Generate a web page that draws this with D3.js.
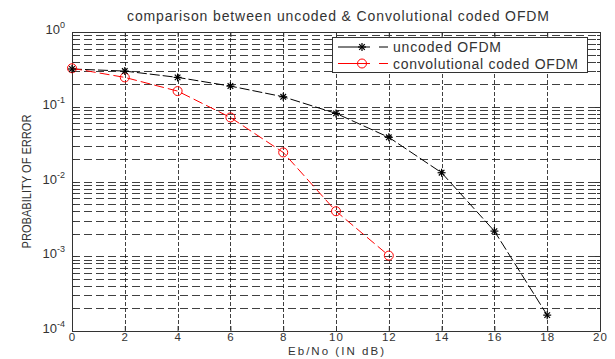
<!DOCTYPE html>
<html><head><meta charset="utf-8">
<script src="https://cdn.jsdelivr.net/npm/d3@7"></script>
<style>body{margin:0;background:#fff;}svg{display:block;font-family:"Liberation Sans",Arial,sans-serif;}</style>
</head><body><svg id="c" width="615" height="359"></svg>
<script>
const ebno = [0,2,4,6,8,10,12,14,16,18];
const uncoded = [0.32,0.30,0.247,0.189,0.136,0.0815,0.039,0.0131,0.00217,0.000163];
const ebnoCoded = [0,2,4,6,8,10,12];
const coded = [0.327,0.247,0.162,0.072,0.0245,0.0040,0.00102];
const xTicks = [0,2,4,6,8,10,12,14,16,18,20];
const yExps = [0,-1,-2,-3,-4];
const title = "comparison between uncoded & Convolutional coded OFDM";
const xLabel = "Eb/No (IN dB)";
const yLabel = "PROBABILITY OF ERROR";
const seriesNames = ["uncoded OFDM","convolutional coded OFDM"];

const svg = d3.select("#c");
const TXT = "#333";
const L=72, R=600, T=32, B=331;
const x = d3.scaleLinear().domain([0,20]).range([L,R]);
const y = d3.scaleLog().domain([1e-4,1]).range([B,T]);

const minors=[];
for(let e=-4;e<0;e++) for(let m=2;m<=9;m++) minors.push(m*Math.pow(10,e));
const majors = yExps.map(e=>Math.pow(10,e));

const g = svg.append("g");
g.selectAll(".hg").data(minors.concat(majors.slice(1,4))).enter().append("line")
 .attr("x1",L).attr("x2",R).attr("y1",d=>Math.round(y(d))+0.5).attr("y2",d=>Math.round(y(d))+0.5)
 .attr("stroke","#111").attr("stroke-width",1).attr("stroke-dasharray","8,4").attr("opacity",0.8);
g.selectAll(".vg").data(xTicks.slice(1,-1)).enter().append("line")
 .attr("x1",d=>Math.round(x(d))+0.5).attr("x2",d=>Math.round(x(d))+0.5).attr("y1",T).attr("y2",B)
 .attr("stroke","#111").attr("stroke-width",1).attr("stroke-dasharray","4,2").attr("opacity",0.8);

const xAxB = d3.axisBottom(x).tickValues(xTicks).tickSize(-5).tickPadding(2).tickFormat(d3.format("d"));
const xAxT = d3.axisTop(x).tickValues(xTicks).tickSize(-5).tickFormat("");
svg.append("g").attr("transform",`translate(0,${B})`).call(xAxB).call(s=>{s.select(".domain").attr("stroke","#333");s.selectAll("line").attr("stroke","#333");s.selectAll("text").attr("font-size",11.5).attr("fill",TXT).attr("font-family","Liberation Sans, Arial, sans-serif").attr("letter-spacing",1);});
svg.append("g").attr("transform",`translate(0,${T})`).call(xAxT).call(s=>{s.select(".domain").attr("stroke","#333");s.selectAll("line").attr("stroke","#333");});
const yTickVals = majors.concat(minors);
svg.append("g").attr("transform",`translate(${L},0)`).call(d3.axisLeft(y).tickValues(yTickVals).tickSize(0).tickFormat("")).call(s=>s.select(".domain").attr("stroke","#333"));
svg.append("g").attr("transform",`translate(${R},0)`).call(d3.axisRight(y).tickValues(yTickVals).tickSize(0).tickFormat("")).call(s=>s.select(".domain").attr("stroke","#333"));
[L,R].forEach((xx,i)=>{
  const dir = i===0?1:-1;
  svg.selectAll(null).data(yTickVals).enter().append("line")
   .attr("x1",xx).attr("x2",d=>xx+dir*(majors.includes(d)?5:3)).attr("y1",d=>Math.round(y(d))+0.5).attr("y2",d=>Math.round(y(d))+0.5)
   .attr("stroke","#333");
});
const yl = svg.selectAll(".yl").data(yExps).enter().append("text")
 .attr("x",L-7).attr("y",d=>y(Math.pow(10,d))+2).attr("text-anchor","end").attr("font-size",13).attr("fill",TXT);
yl.append("tspan").text("10");
yl.append("tspan").attr("dy",-6).attr("font-size",9).text(d=>d);

svg.append("text").attr("x",338).attr("y",21).attr("text-anchor","middle").attr("font-size",14).attr("fill",TXT)
 .attr("textLength",422).attr("lengthAdjust","spacing").text(title);
svg.append("text").attr("x",(L+R)/2).attr("y",355).attr("text-anchor","middle").attr("font-size",11.5).attr("fill",TXT)
 .attr("textLength",96).attr("lengthAdjust","spacing").text(xLabel);
svg.append("text").attr("transform",`translate(31,${(T+B)/2}) rotate(-90)`).attr("text-anchor","middle").attr("font-size",13).attr("fill",TXT)
 .attr("textLength",134).attr("lengthAdjust","spacingAndGlyphs").text(yLabel);

const line = d3.line().x(d=>x(d[0])).y(d=>y(d[1]));
const uData = ebno.map((v,i)=>[v,uncoded[i]]);
const cData = ebnoCoded.map((v,i)=>[v,coded[i]]);
svg.append("path").datum(uData).attr("d",line).attr("fill","none").attr("stroke","#000").attr("stroke-width",1).attr("stroke-dasharray","10,3");
svg.append("path").datum(cData).attr("d",line).attr("fill","none").attr("stroke","#f00").attr("stroke-width",1).attr("stroke-dasharray","10,4");
function drawStar(sel,cx,cy){
  const s=4;
  const gg=sel.append("g").attr("transform",`translate(${cx},${cy})`).attr("stroke","#000").attr("stroke-width",1.2);
  gg.append("line").attr("x1",-s).attr("x2",s).attr("y1",0).attr("y2",0);
  gg.append("line").attr("x1",0).attr("x2",0).attr("y1",-s).attr("y2",s);
  gg.append("line").attr("x1",-s*0.7).attr("x2",s*0.7).attr("y1",-s*0.7).attr("y2",s*0.7);
  gg.append("line").attr("x1",-s*0.7).attr("x2",s*0.7).attr("y1",s*0.7).attr("y2",-s*0.7);
}
svg.selectAll(".cm").data(cData).enter().append("circle")
 .attr("cx",d=>x(d[0])).attr("cy",d=>y(d[1])).attr("r",4.5).attr("fill","none").attr("stroke","#f00").attr("stroke-width",1);
uData.forEach(d=>drawStar(svg,x(d[0]),y(d[1])));

const lg = svg.append("g");
lg.append("rect").attr("x",332.5).attr("y",37.5).attr("width",255).attr("height",35).attr("fill","#fff").attr("stroke","#333");
const rows=[{n:seriesNames[0],c:"#000",m:"star",yy:47,w:108},{n:seriesNames[1],c:"#f00",m:"circ",yy:63.5,w:185}];
rows.forEach(r=>{
  lg.append("line").attr("x1",338).attr("x2",370).attr("y1",r.yy).attr("y2",r.yy).attr("stroke",r.c);
  lg.append("line").attr("x1",379).attr("x2",388).attr("y1",r.yy).attr("y2",r.yy).attr("stroke",r.c);
  if(r.m==="star") drawStar(lg,362,r.yy); else lg.append("circle").attr("cx",362).attr("cy",r.yy).attr("r",4.5).attr("fill","none").attr("stroke",r.c);
  lg.append("text").attr("x",393).attr("y",r.yy+5).attr("font-size",14).attr("fill",TXT)
   .attr("textLength",r.w).attr("lengthAdjust","spacing").text(r.n);
});
</script></body></html>
